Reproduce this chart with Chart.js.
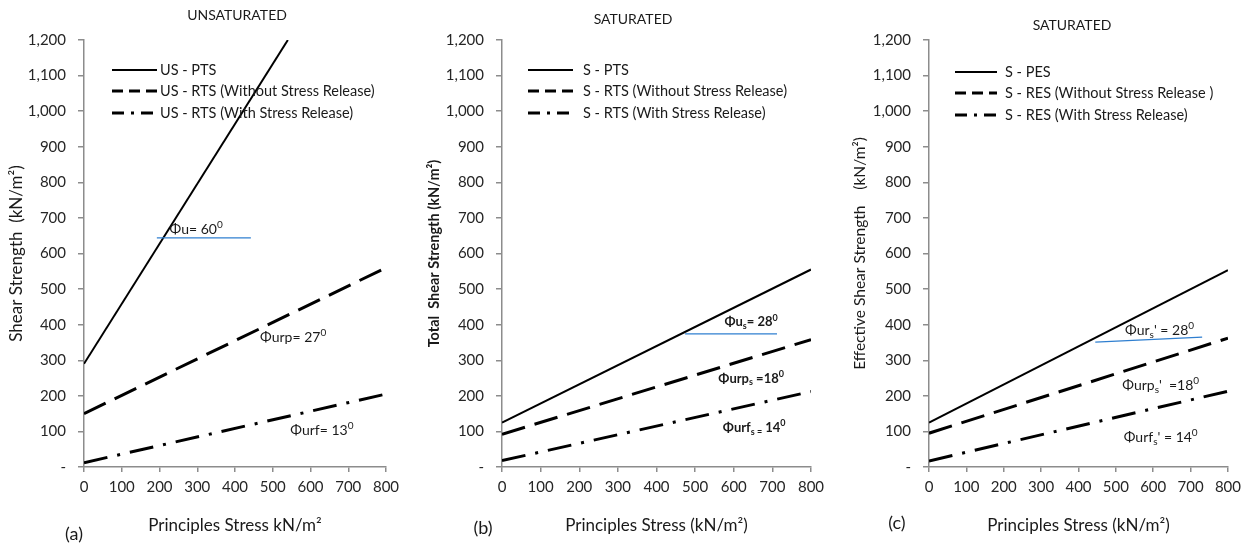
<!DOCTYPE html>
<html><head><meta charset="utf-8">
<script src="https://cdn.jsdelivr.net/npm/chart.js@4"></script>
<style>
html,body{margin:0;padding:0;background:#fff;width:1247px;height:547px;overflow:hidden;}
canvas{position:absolute;top:0;}
</style></head><body>
<canvas id="ca" width="415" height="547" style="left:0px"></canvas>
<canvas id="cb" width="415" height="547" style="left:420px"></canvas>
<canvas id="cc" width="402" height="547" style="left:845px"></canvas>
<script>
// ---------- DATA ----------
const xMin = 0, xMax = 800, xStep = 100;
const yMin = 0, yMax = 1200, yStep = 100;

// Panel (a) UNSATURATED
const aPTS_x = [0, 540],  aPTS_y = [290, 1200];
const aRTSwo_x = [0, 800], aRTSwo_y = [150, 560];
const aRTSw_x = [0, 800],  aRTSw_y = [12, 205];
const aNames = ['US - PTS', 'US - RTS (Without Stress Release)', 'US - RTS (With Stress Release)'];

// Panel (b) SATURATED (total)
const bPTS_x = [0, 800],  bPTS_y = [125, 555];
const bRTSwo_x = [0, 800], bRTSwo_y = [92, 358];
const bRTSw_x = [0, 800],  bRTSw_y = [18, 212];
const bNames = ['S - PTS', 'S - RTS (Without Stress Release)', 'S - RTS (With Stress Release)'];

// Panel (c) SATURATED (effective)
const cPES_x = [0, 800],  cPES_y = [125, 553];
const cRESwo_x = [0, 800], cRESwo_y = [95, 362];
const cRESw_x = [0, 800],  cRESw_y = [17, 213];
const cNames = ['S - PES', 'S - RES (Without Stress Release )', 'S - RES (With Stress Release)'];

// Angle annotations (text, x, y in data units)
const aLabels = [['Φu= 60^{0}', 297, 669], ['Φurp= 27^{0}', 554, 365], ['Φurf= 13^{0}', 630, 104]];
const bLabels = [['Φu_{s}= 28^{0}', 645, 408], ['Φurp_{s} =18^{0}', 645, 250], ['Φurf_{s =} 14^{0}', 653, 112]];
const cLabels = [["Φur_{s}' = 28^{0}", 617, 385], ["Φurp_{s}'  =18^{0}", 620, 230], ["Φurf_{s}' = 14^{0}", 620, 84]];
// blue reference lines (x1,y1,x2,y2 in data units)
const aRefLine = [193, 644, 442, 644];
const bRefLine = [474, 374, 712, 374];
const cRefLine = [445, 351, 731, 365];

// ---------- HELPERS ----------
const FONT = 'Lato, "Open Sans", sans-serif';
const pts = (xs, ys) => xs.map((v, i) => ({x: v, y: ys[i]}));

function parseRich(s) {
  const segs = []; const re = /(\^|_)\{([^}]*)\}/g; let last = 0, m;
  while ((m = re.exec(s))) {
    if (m.index > last) segs.push({t: s.slice(last, m.index), k: 'n'});
    segs.push({t: m[2], k: m[1] === '^' ? 'sup' : 'sub'});
    last = re.lastIndex;
  }
  if (last < s.length) segs.push({t: s.slice(last), k: 'n'});
  return segs;
}
function drawRich(ctx, s, cx, cy, size, weight) {
  const segs = parseRich(s);
  const f = (k) => `${weight} ${k === 'n' ? size : Math.round(size * 0.68)}px ${FONT}`;
  let w = 0;
  segs.forEach(g => { ctx.font = f(g.k); g.w = ctx.measureText(g.t).width; w += g.w; });
  let x = cx - w / 2;
  ctx.textAlign = 'left'; ctx.textBaseline = 'alphabetic';
  const base = cy + size * 0.35;
  segs.forEach(g => {
    ctx.font = f(g.k);
    const yy = g.k === 'sup' ? base - size * 0.42 : g.k === 'sub' ? base + size * 0.22 : base;
    ctx.fillText(g.t, x, yy); x += g.w;
  });
}

const deco = {
  id: 'deco',
  afterDatasetsDraw(chart, args, o) {
    const {ctx} = chart; const xs = chart.scales.x, ys = chart.scales.y;
    ctx.save();
    ctx.fillStyle = '#1a1a1a';
    ctx.textAlign = 'center'; ctx.textBaseline = 'middle';
    ctx.font = `14px ${FONT}`;
    ctx.fillText(o.title, o.titleX, o.titleY);
    ctx.font = `18px ${FONT}`;
    ctx.fillText(o.label, o.labelX, o.labelY);
    // legend
    const lg = o.legend;
    chart.data.datasets.forEach((ds, i) => {
      const yy = lg.y[i];
      ctx.strokeStyle = '#000'; ctx.lineWidth = ds.borderWidth;
      ctx.setLineDash(lg.dash[i]);
      ctx.beginPath(); ctx.moveTo(lg.x1, yy); ctx.lineTo(lg.x2, yy); ctx.stroke();
      ctx.setLineDash([]);
      ctx.font = `14.5px ${FONT}`; ctx.textAlign = 'left'; ctx.textBaseline = 'middle';
      ctx.fillStyle = '#1a1a1a';
      ctx.fillText(ds.label, lg.tx, yy);
    });
    // blue reference line
    const r = o.ref;
    ctx.strokeStyle = '#2f7fd0'; ctx.lineWidth = 1.2;
    ctx.beginPath();
    ctx.moveTo(xs.getPixelForValue(r[0]), ys.getPixelForValue(r[1]));
    ctx.lineTo(xs.getPixelForValue(r[2]), ys.getPixelForValue(r[3]));
    ctx.stroke();
    // angle labels
    ctx.fillStyle = '#1a1a1a';
    o.texts.forEach(t => drawRich(ctx, t[0], xs.getPixelForValue(t[1]), ys.getPixelForValue(t[2]), o.bold ? 13 : 14, o.bold ? 'bold' : 'normal'));
    ctx.restore();
  }
};

function makeChart(id, sets, names, cfg) {
  const styles = [
    {borderWidth: 2, borderDash: []},
    {borderWidth: 3, borderDash: [24, 10]},
    {borderWidth: 3, borderDash: [24, 10, 3, 10]}
  ];
  const datasets = sets.map((s, i) => ({
    label: names[i], data: pts(s[0], s[1]),
    borderColor: '#000', backgroundColor: '#000',
    borderWidth: styles[i].borderWidth, borderDash: styles[i].borderDash,
    pointRadius: 0, tension: 0, fill: false, borderCapStyle: 'butt'
  }));
  return new Chart(document.getElementById(id), {
    type: 'line',
    data: {datasets},
    plugins: [deco],
    options: {
      responsive: false, animation: false,
      layout: {padding: {left: 0, top: 40, right: cfg.right, bottom: 0}},
      plugins: {
        legend: {display: false}, tooltip: {enabled: false}, title: {display: false},
        deco: cfg.deco
      },
      scales: {
        x: {
          type: 'linear', min: xMin, max: xMax,
          afterFit: s => { s.height = 80; },
          ticks: {stepSize: xStep, color: '#262626', font: {family: FONT, size: 15}, padding: 6, maxRotation: 0},
          grid: {drawOnChartArea: false, drawTicks: true, tickLength: 5, color: '#8c8c8c', lineWidth: 1.5},
          border: {color: '#8c8c8c', width: 1.5},
          title: {display: true, text: cfg.xTitle, color: '#1a1a1a', font: {family: FONT, size: 17}, padding: {top: 0, bottom: 11}}
        },
        y: {
          type: 'linear', min: yMin, max: yMax,
          afterFit: s => { s.width = cfg.yW; },
          ticks: {stepSize: yStep, color: '#262626', font: {family: FONT, size: 15}, padding: 12,
                  callback: v => v === 0 ? '-' : v.toLocaleString('en-US')},
          grid: {drawOnChartArea: false, drawTicks: true, tickLength: 6, color: '#8c8c8c', lineWidth: 1.5},
          border: {color: '#8c8c8c', width: 1.5},
          title: {display: true, text: cfg.yTitle, color: '#1a1a1a', font: {family: FONT, size: cfg.yTitleSize, weight: cfg.yTitleWeight}, padding: {top: cfg.yTitlePad, bottom: 0}}
        }
      }
    }
  });
}

makeChart('ca', [[aPTS_x, aPTS_y], [aRTSwo_x, aRTSwo_y], [aRTSw_x, aRTSw_y]], aNames, {
  right: 29, yW: 84, xTitle: 'Principles Stress kN/m²', yTitle: 'Shear Strength  (kN/m²)',
  yTitleSize: 17, yTitleWeight: 'normal', yTitlePad: 6,
  deco: {title: 'UNSATURATED', titleX: 237, titleY: 15, label: '(a)', labelX: 74, labelY: 534,
         legend: {x1: 112, x2: 157, tx: 160, y: [70, 91, 113], dash: [[], [11, 6], [12, 7, 3, 7]]},
         ref: aRefLine, texts: aLabels, bold: false}
});
makeChart('cb', [[bPTS_x, bPTS_y], [bRTSwo_x, bRTSwo_y], [bRTSw_x, bRTSw_y]], bNames, {
  right: 24, yW: 82, xTitle: 'Principles Stress (kN/m²)', yTitle: 'Total  Shear Strength (kN/m²)',
  yTitleSize: 14.5, yTitleWeight: 'bold', yTitlePad: 6,
  deco: {title: 'SATURATED', titleX: 213, titleY: 19, label: '(b)', labelX: 63, labelY: 528,
         legend: {x1: 108, x2: 153, tx: 163, y: [70, 91, 113], dash: [[], [11, 6], [12, 7, 3, 7]]},
         ref: bRefLine, texts: bLabels, bold: true}
});
makeChart('cc', [[cPES_x, cPES_y], [cRESwo_x, cRESwo_y], [cRESw_x, cRESw_y]], cNames, {
  right: 16, yW: 84, xTitle: 'Principles Stress (kN/m²)', yTitle: 'Effective Shear Strength    (kN/m²)',
  yTitleSize: 15.5, yTitleWeight: 'normal', yTitlePad: 6,
  deco: {title: 'SATURATED', titleX: 227, titleY: 25, label: '(c)', labelX: 52, labelY: 523,
         legend: {x1: 110, x2: 152, tx: 160, y: [72, 93, 115], dash: [[], [11, 6], [12, 7, 3, 7]]},
         ref: cRefLine, texts: cLabels, bold: false}
});
</script>
</body></html>
